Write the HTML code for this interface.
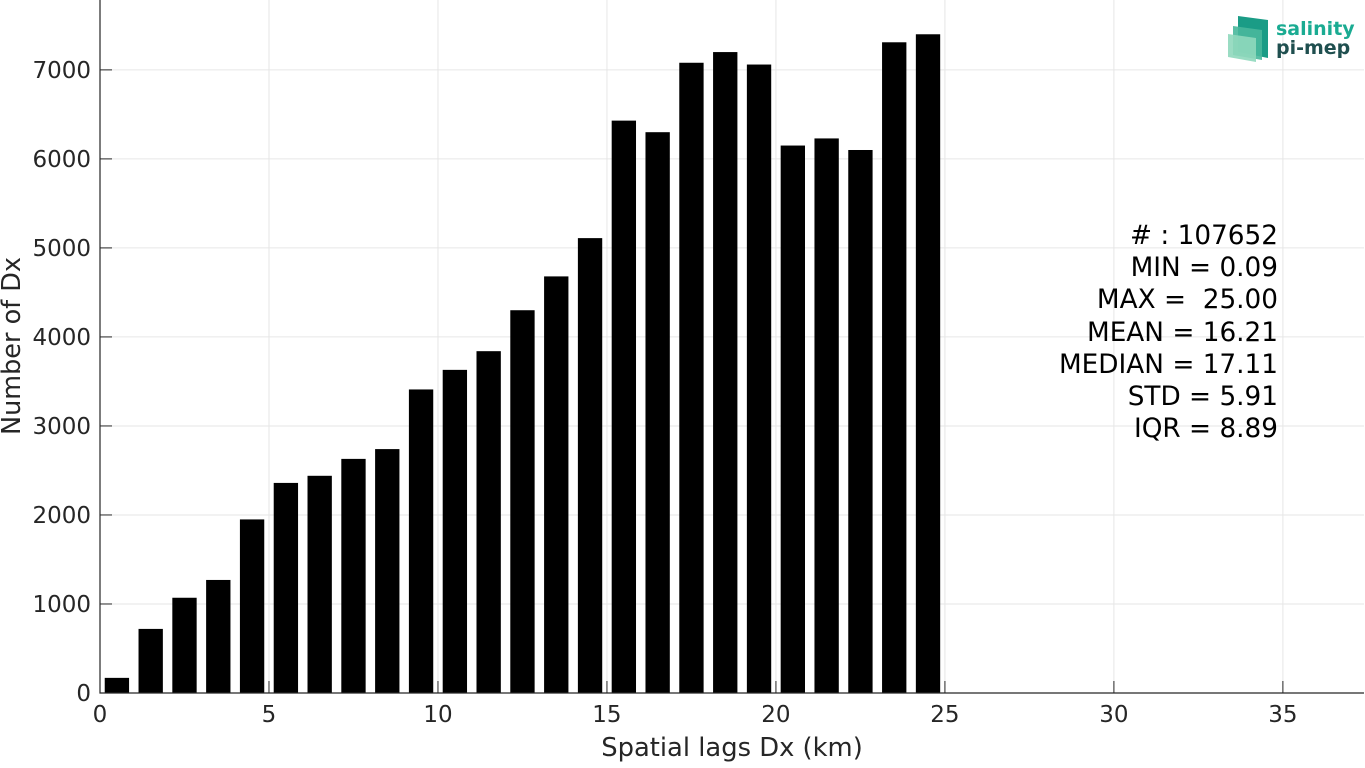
<!DOCTYPE html>
<html><head><meta charset="utf-8"><style>
body{margin:0;background:#fff;width:1365px;height:763px;overflow:hidden}
svg{font-family:"DejaVu Sans","Liberation Sans",sans-serif}
</style></head><body>
<svg id="chart" width="1365" height="763" xmlns="http://www.w3.org/2000/svg">
<g id="grid"></g>
<g id="bars"></g>
<g id="axes"></g>
<text x="732" y="756" text-anchor="middle" font-size="25.8" fill="#262626">Spatial lags Dx (km)</text>
<text transform="translate(20,346) rotate(-90)" text-anchor="middle" font-size="25.5" fill="#262626">Number of Dx</text>
<g font-size="26.3" fill="#000" text-anchor="end">
<text x="1278" y="244"># : 107652</text>
<text x="1278" y="276">MIN = 0.09</text>
<text x="1278" y="308" xml:space="preserve">MAX =  25.00</text>
<text x="1278" y="341">MEAN = 16.21</text>
<text x="1278" y="373">MEDIAN = 17.11</text>
<text x="1278" y="405">STD = 5.91</text>
<text x="1278" y="437">IQR = 8.89</text>
</g>
<g>
<polygon points="1238,16 1268,20 1268,58 1238,52" fill="#1a9c86"/>
<polygon points="1233,26 1262,30 1262,60 1233,55" fill="#49b89c" opacity="0.9"/>
<polygon points="1228,34 1256,38 1256,62 1228,57" fill="#8fd8bd" opacity="0.9"/>
<text x="1276" y="35" font-size="19" font-weight="bold" fill="#1aab92">salinity</text>
<text x="1276" y="54" font-size="19" font-weight="bold" fill="#1f4f4f">pi-mep</text>
</g>
</svg>
<script>
const binCenters=[0.5,1.5,2.5,3.5,4.5,5.5,6.5,7.5,8.5,9.5,10.5,11.5,12.5,13.5,14.5,15.5,16.5,17.5,18.5,19.5,20.5,21.5,22.5,23.5,24.5];
const counts=[170,720,1070,1270,1950,2360,2440,2630,2740,3410,3630,3840,4300,4680,5110,6430,6300,7080,7200,7060,6150,6230,6100,7310,7400];
const xTicks=[0,5,10,15,20,25,30,35];
const yTicks=[0,1000,2000,3000,4000,5000,6000,7000];
const X0=100,X1=1364,Y0=693,Y1=0,xMax=37.4,yMax=7785;
const sx=v=>X0+v/xMax*(X1-X0);
const sy=v=>Y0-v/yMax*(Y0-Y1);
const NS="http://www.w3.org/2000/svg";
function mk(t,a,p){const e=document.createElementNS(NS,t);for(const k in a)e.setAttribute(k,a[k]);p.appendChild(e);return e;}
const grid=document.getElementById('grid'),bars=document.getElementById('bars'),axes=document.getElementById('axes');
xTicks.forEach(t=>{
 const l=mk('line',{x1:sx(t),x2:sx(t),y1:Y1,y2:Y0,stroke:'#e6e6e6'},grid);
 
 
 const tk=mk('line',{x1:sx(t),x2:sx(t),y1:Y0,y2:Y0-12,stroke:'#262626'},axes);
 
 
 const tx=mk('text',{x:sx(t),y:Y0+29,'text-anchor':'middle','font-size':23,fill:'#262626'},axes);
 tx.textContent=t;
 
 
});
yTicks.forEach(t=>{
 const l=mk('line',{x1:X0,x2:X1,y1:sy(t),y2:sy(t),stroke:'#e6e6e6'},grid);
 
 
 const tk=mk('line',{x1:X0,x2:X0+12,y1:sy(t),y2:sy(t),stroke:'#262626'},axes);
 
 
 const tx=mk('text',{x:X0-9,y:sy(t)+8,'text-anchor':'end','font-size':23,fill:'#262626'},axes);
 tx.textContent=t;
 
 
});
const bw=0.72;
binCenters.forEach((c,i)=>{
 const r=mk('rect',{x:sx(c-bw/2),y:sy(counts[i]),width:sx(bw)-sx(0),height:Y0-sy(counts[i]),fill:'#000'},bars);
 
 
});
const ax=mk('path',{d:`M${X0},${Y1}V${Y0}H${X1}`,fill:'none',stroke:'#262626','stroke-width':1.2},axes);


</script>
</body></html>
